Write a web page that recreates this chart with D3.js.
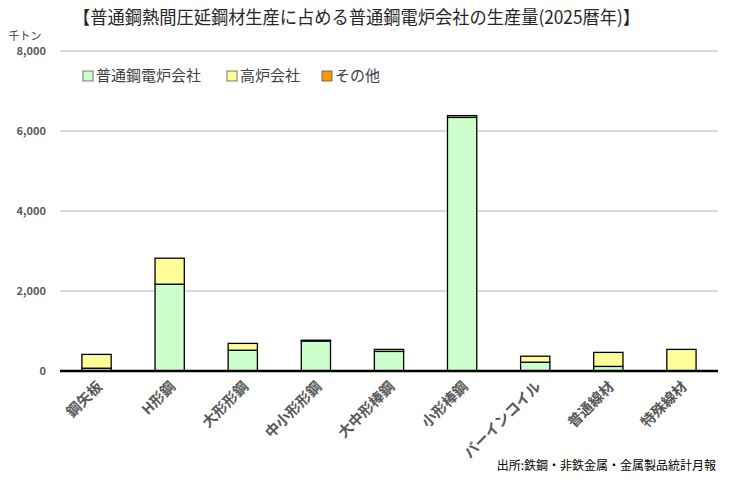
<!DOCTYPE html>
<html><head><meta charset="utf-8">
<script src="https://cdn.jsdelivr.net/npm/d3@7"></script>
<style>body{margin:0;background:#fff}svg{display:block}text{font-family:"Noto Sans CJK JP","Noto Sans",sans-serif}</style>
</head><body>
<script>
const categories = ["鋼矢板","H形鋼","大形形鋼","中小形形鋼","大中形棒鋼","小形棒鋼","バーインコイル","普通線材","特殊線材"];
const denro = [70, 2170, 520, 750, 490, 6340, 220, 115, 0];
const koro = [345, 650, 170, 20, 50, 45, 150, 350, 540];
const sonota = [0, 0, 0, 0, 0, 0, 0, 0, 0];
const seriesNames = ["普通鋼電炉会社","高炉会社","その他"];
const colors = ["#ccffcc","#ffff99","#ff9900"];
const yTicks = [0, 2000, 4000, 6000, 8000];

const W = 740, H = 486;
const svg = d3.select("body").append("svg").attr("width", W).attr("height", H);
const x = d3.scaleBand().domain(categories).range([60, 718]).paddingInner(0.6).paddingOuter(0.3);
const y = d3.scaleLinear().domain([0, 8000]).range([371, 51]);

// grid
svg.append("g").selectAll("line").data(yTicks.filter(d => d > 0)).join("line")
  .attr("x1", 60).attr("x2", 718).attr("y1", d => y(d)).attr("y2", d => y(d))
  .attr("stroke", "#d9d9d9").attr("stroke-width", 2);

// y labels
svg.append("g").selectAll("text").data(yTicks).join("text")
  .attr("x", 46).attr("y", d => y(d)).attr("dy", "0.35em").attr("text-anchor", "end")
  .attr("font-size", 11).attr("font-weight", "bold").attr("fill", "#595959")
  .text(d => d3.format(",")(d));

svg.append("text").attr("x", 25).attr("y", 40).attr("text-anchor", "middle")
  .attr("font-size", 11).attr("fill", "#333").text("千トン");

// stacked bars
const rows = categories.map((c, i) => ({cat: c, s0: denro[i], s1: koro[i], s2: sonota[i]}));
const stack = d3.stack().keys(["s0","s1","s2"])(rows);
stack.forEach((layer, li) => {
  svg.append("g").selectAll("rect").data(layer.filter(d => d[1] - d[0] > 0)).join("rect")
    .attr("x", d => x(d.data.cat)).attr("width", x.bandwidth())
    .attr("y", d => y(d[1])).attr("height", d => y(d[0]) - y(d[1]))
    .attr("fill", colors[li]).attr("stroke", "#000").attr("stroke-width", 1.3);
});

// baseline
svg.append("line").attr("x1", 60).attr("x2", 718).attr("y1", y(0)).attr("y2", y(0))
  .attr("stroke", "#000").attr("stroke-width", 2.5);

// x labels
svg.append("g").selectAll("text").data(categories).join("text")
  .attr("transform", d => `translate(${x(d) + x.bandwidth()/2 + 3},${384}) rotate(-45)`)
  .attr("text-anchor", "end").attr("dy", "0.35em")
  .attr("font-size", 14.5).attr("font-weight", "bold").attr("fill", "#595959")
  .text(d => d);

// title
svg.append("text").attr("x", 73).attr("y", 24).attr("font-size", 18).attr("fill", "#262626")
  .attr("textLength", 567).attr("lengthAdjust", "spacingAndGlyphs")
  .text("【普通鋼熱間圧延鋼材生産に占める普通鋼電炉会社の生産量(2025暦年)】");

// legend
const legX = [83, 227, 322];
const lg = svg.append("g").selectAll("g").data(seriesNames).join("g")
  .attr("transform", (d, i) => `translate(${legX[i]},76)`);
lg.append("rect").attr("x", 0).attr("y", -5).attr("width", 10).attr("height", 10)
  .attr("fill", (d, i) => colors[i]).attr("stroke", "#555").attr("stroke-width", 0.8);
lg.append("text").attr("x", 13).attr("y", 0).attr("dy", "0.35em")
  .attr("font-size", 15).attr("fill", "#404040").text(d => d);

// source
svg.append("text").attr("x", 716).attr("y", 470).attr("text-anchor", "end")
  .attr("font-size", 12).attr("fill", "#000").text("出所:鉄鋼・非鉄金属・金属製品統計月報");
</script>
</body></html>
